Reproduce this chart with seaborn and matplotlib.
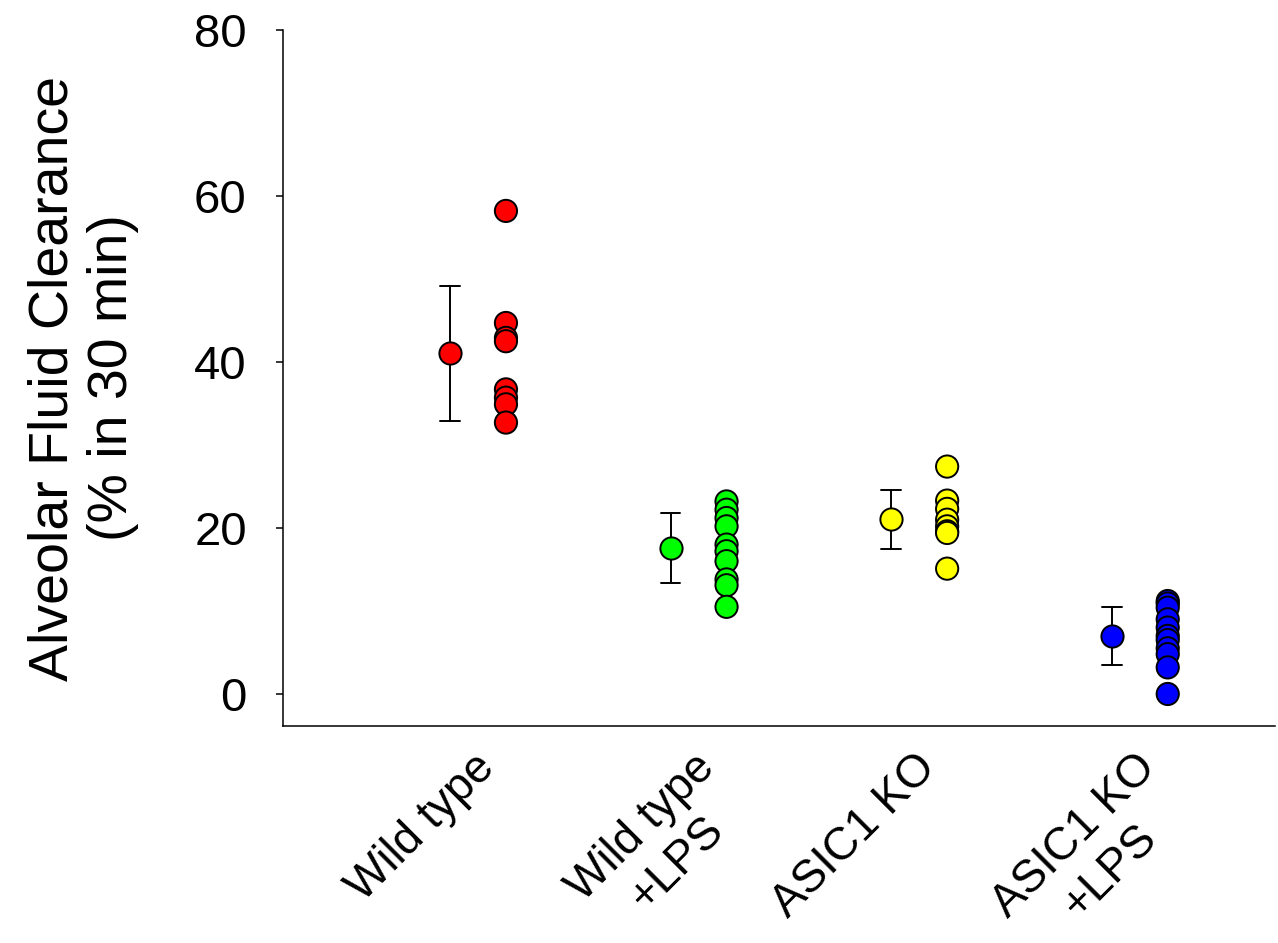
import numpy as np
import pandas as pd
import seaborn as sns
import matplotlib
matplotlib.use("Agg")
import matplotlib.pyplot as plt

# group labels and colours
groups = ['Wild type', 'Wild type\n+LPS', 'ASIC1 KO', 'ASIC1 KO\n+LPS']
colors = ['#ff0000', '#00ff00', '#ffff00', '#0000ff']

# individual clearance values (% in 30 min)
wild_type = [58.2, 44.7, 42.9, 42.5, 36.7, 35.7, 34.9, 32.7]
wild_type_lps = [23.2, 22.2, 21.2, 20.2, 18.0, 17.2, 16.0, 13.8, 13.1, 10.5]
asic1_ko = [27.4, 23.3, 22.3, 21.0, 20.2, 19.6, 19.4, 15.1]
asic1_ko_lps = [11.2, 10.9, 10.4, 9.0, 8.0, 7.0, 6.5, 5.5, 4.8, 3.2, 0.0]

yticks = [0, 20, 40, 60, 80]

values = [wild_type, wild_type_lps, asic1_ko, asic1_ko_lps]
df = pd.DataFrame({
    'group': np.repeat(groups, [len(v) for v in values]),
    'value': np.concatenate(values),
})
df['pos'] = df['group'].map({g: i for i, g in enumerate(groups)}).astype(float)
df['pos_pts'] = df['pos'] + 0.254

sns.set_style('white')
plt.rcParams['font.family'] = ['Liberation Sans', 'DejaVu Sans']
plt.rcParams['text.color'] = 'black'
plt.rcParams['axes.labelcolor'] = 'black'
plt.rcParams['xtick.color'] = 'black'
plt.rcParams['ytick.color'] = 'black'

fig = plt.figure(figsize=(12.78, 9.43), dpi=100)
ax = fig.add_axes([0.2214, 0.2301, 0.7762, 0.7381])

palette = dict(zip(groups, colors))

# mean +/- SD
sns.pointplot(data=df, x='pos', y='value', hue='group', palette=palette,
              native_scale=True, errorbar='sd', linestyle='none',
              markers='o', markersize=16, markeredgecolor='black',
              markeredgewidth=1.4, capsize=0.09, zorder=3,
              err_kws={'color': 'black', 'linewidth': 1.4, 'zorder': 1},
              legend=False, ax=ax)

# individual animals
sns.scatterplot(data=df, x='pos_pts', y='value', hue='group',
                palette=palette, s=256, edgecolor='black', linewidth=1.4,
                legend=False, zorder=3, ax=ax)

ax.set_xlim(-0.757, 3.74)
ax.set_ylim(-3.86, 80)
ax.set_yticks(yticks)
ax.set_xticks([i + 0.1 for i in range(len(groups))])
ax.set_xticklabels(groups, rotation=45, ha='right', va='top',
                   rotation_mode='anchor', multialignment='center',
                   linespacing=1.2, fontsize=33)
ax.tick_params(axis='x', length=0, pad=14)
ax.tick_params(axis='y', left=True, direction='out', length=5, width=1.1,
               labelsize=34, pad=21)
ax.set_xlabel('')
ax.set_ylabel('Alveolar Fluid Clearance\n(% in 30 min)', fontsize=40)
ax.yaxis.set_label_coords(-0.145, 0.5)

for side in ['top', 'right']:
    ax.spines[side].set_visible(False)
for side in ['left', 'bottom']:
    ax.spines[side].set_color('black')
    ax.spines[side].set_linewidth(1.1)

fig.savefig('out.png', dpi=100)
